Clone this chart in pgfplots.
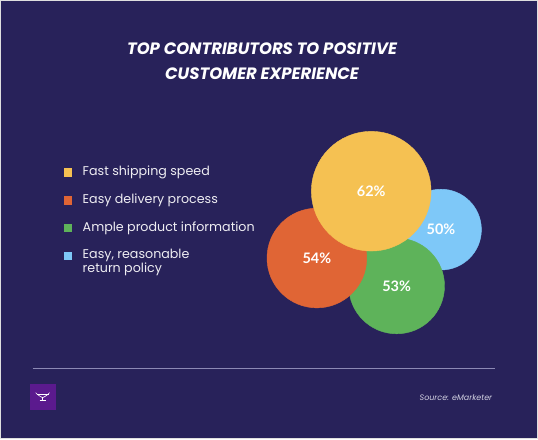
\documentclass[border=0pt]{standalone}
\usepackage{pgfplots}
\pgfplotsset{compat=1.18}
\usepackage{fontspec}
\setmainfont{Poppins}
\newfontfamily\numfont{Lato}
\definecolor{bgnavy}{HTML}{28225A}
\definecolor{cyellow}{HTML}{F5C152}
\definecolor{corange}{HTML}{E06535}
\definecolor{cgreen}{HTML}{5EB35A}
\definecolor{cblue}{HTML}{7EC8F8}
\definecolor{rulec}{HTML}{8C89B4}
\definecolor{logop}{HTML}{5B1A8E}
\definecolor{srcgrey}{HTML}{D2D2E2}
\begin{document}
\begin{tikzpicture}
\begin{axis}[
  scale only axis, width=538pt, height=439pt,
  xmin=0, xmax=538, ymin=0, ymax=439,
  axis lines=none, ticks=none, clip=false,
  axis background/.style={fill=bgnavy, draw=white!75!gray, line width=1.5pt},
  /pgf/number format/assume math mode=true,
  point meta=explicit,
  nodes near coords={\pgfmathprintnumber{\pgfplotspointmeta}\%},
  every node near coord/.append style={anchor=center, text=white, font=\numfont\bfseries\fontsize{14.5}{16}\selectfont},
]
% circles: x, y (pixel-based), meta = value
\addplot[only marks, mark=*, mark size=40.5pt, color=cblue] coordinates {(441.5,209.5) [50]};
\addplot[only marks, mark=*, mark size=48pt, color=cgreen] coordinates {(397,153) [53]};
\addplot[only marks, mark=*, mark size=50pt, color=corange] coordinates {(317,181) [54]};
\addplot[only marks, mark=*, mark size=60pt, color=cyellow] coordinates {(371.5,248) [62]};
% legend squares
\addplot[only marks, mark=square*, mark size=3.6pt, color=cyellow, nodes near coords={}] coordinates {(67,267) [0]};
\addplot[only marks, mark=square*, mark size=3.6pt, color=corange, nodes near coords={}] coordinates {(67,239) [0]};
\addplot[only marks, mark=square*, mark size=3.6pt, color=cgreen, nodes near coords={}] coordinates {(67,211) [0]};
\addplot[only marks, mark=square*, mark size=3.6pt, color=cblue, nodes near coords={}] coordinates {(67,183) [0]};
\begin{scope}[every node/.style={anchor=west, text=white!92!bgnavy, font=\fontsize{12.7}{14}\selectfont, inner sep=0pt}]
\node at (axis cs:82,267) {Fast shipping speed};
\node at (axis cs:82,239) {Easy delivery process};
\node at (axis cs:82,211) {Ample product information};
\node[align=left, anchor=north west] at (axis cs:82,190) {Easy, reasonable\\return policy};
\end{scope}
% title
\node[text=white, align=center, font=\bfseries\itshape\fontsize{16.5}{25}\selectfont] at (axis cs:262,378.5) {TOP CONTRIBUTORS TO POSITIVE\\CUSTOMER EXPERIENCE};
% rule
\draw[rulec, line width=1.3pt] (axis cs:32,70) -- (axis cs:496,70);
% logo
\node[fill=logop, minimum size=26pt, inner sep=0pt] at (axis cs:42,41.5) {};
\draw[white, line width=0.6pt] (axis cs:36,44) -- (axis cs:48,44);
\draw[white, line width=0.6pt] (axis cs:35,46) -- (axis cs:37,44) -- (axis cs:40,42) -- (axis cs:42,41) -- (axis cs:44,42) -- (axis cs:47,44) -- (axis cs:49,46);
\draw[white, line width=0.6pt] (axis cs:42,41) -- (axis cs:42,38);
\draw[white, line width=0.6pt] (axis cs:39,38) -- (axis cs:45,38);
% source
\node[anchor=east, inner sep=0pt, text=srcgrey, font=\itshape\fontsize{8}{10}\selectfont] at (axis cs:493,41) {Source: eMarketer};
\end{axis}
\end{tikzpicture}
\end{document}
